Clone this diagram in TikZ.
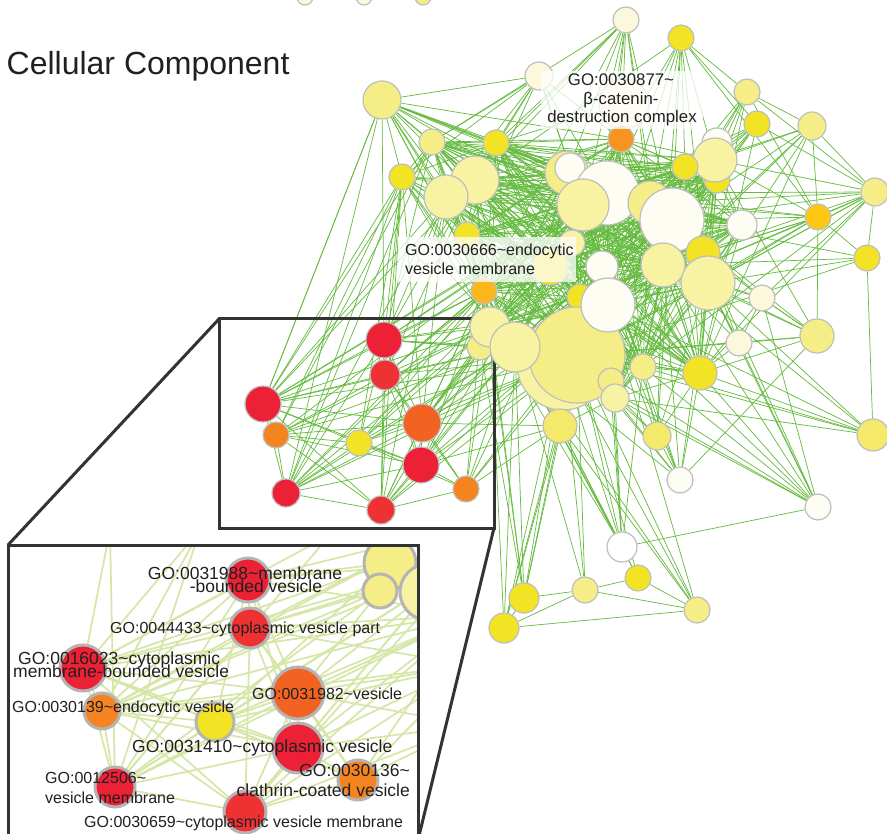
\documentclass[tikz,border=0pt]{standalone}
\usepackage{fontspec}
\setmainfont{Liberation Sans}
\pgfdeclarelayer{edges}
\pgfdeclarelayer{frame}
\pgfdeclarelayer{zoomback}
\pgfdeclarelayer{zoomedges}
\pgfsetlayers{edges,frame,zoomback,zoomedges,main}

\definecolor{gcream}{HTML}{FEFDF3}
\definecolor{givory}{HTML}{FBF8DC}
\definecolor{gpale}{HTML}{F8F3A2}
\definecolor{gyel}{HTML}{F5EE87}
\definecolor{gmid}{HTML}{F4E96A}
\definecolor{gbright}{HTML}{F2E424}
\definecolor{gamber}{HTML}{FCC814}
\definecolor{gsaffron}{HTML}{FBB71C}
\definecolor{gorange}{HTML}{F7941D}
\definecolor{gorange2}{HTML}{F4841F}
\definecolor{gvermil}{HTML}{F26322}
\definecolor{gred}{HTML}{EC2136}
\definecolor{gred2}{HTML}{EE3234}
\definecolor{ringgray}{HTML}{BEBEBE}
\definecolor{zringgray}{HTML}{B4B4B4}
\definecolor{linkgreen}{HTML}{66BB40}
\definecolor{linkpale}{HTML}{D5E6A6}
\definecolor{inkdark}{HTML}{231F20}
\definecolor{framedark}{HTML}{333333}

\tikzset{
  term/.style={circle, draw=ringgray, line width=1.2pt, inner sep=0pt},
  zterm/.style={circle, draw=zringgray, line width=3pt, inner sep=0pt},
  link/.style={draw=linkgreen, line width=0.72pt},
  zlink/.style={draw=linkpale, line width=1.7pt},
  zoomframe/.style={draw=framedark, line width=3pt},
  tag/.style={inner sep=0pt, text=inkdark, font=\fontsize{16}{18}\selectfont},
  bigtag/.style={font=\fontsize{16.8}{18}\selectfont},
  ztag/.style={inner sep=0pt, text=inkdark, font=\fontsize{16}{16}\selectfont},
  zbig/.style={font=\fontsize{17.5}{17.5}\selectfont},
  tagbox/.style={fill=white, fill opacity=0.75, draw=none, inner sep=0pt},
}
\newcommand\goterm[5]{\node[term, fill=#5, minimum size=2*#4 pt] (#1) at (#2,#3) {};}
\newcommand\gozterm[5]{\node[zterm, fill=#5, minimum size=2*#4 pt] (#1) at (#2,#3) {};}

\def\corelist{a3,a4,a6,a7,a8,a10,a11,b7,c1,c2,c3,c4,c5,c6,c7,c9,c10,c11,c12,c13,c14,c15,c16,c17,c18,d1,d3,d5,d6,d8,d10}

\begin{document}
\begin{tikzpicture}[x=1pt,y=-1pt]
\useasboundingbox (0,0) rectangle (887,834);
\begin{pgfonlayer}{edges}
  \fill[white] (0,0) rectangle (887,834);
\end{pgfonlayer}

% title
\node[anchor=base west, inner sep=0pt, text=inkdark, font=\fontsize{32}{38}\selectfont] (title) at (6.5,75) {Cellular Component};

% ---------------- main network: terms ----------------
\goterm{t1}{305}{-3}{8}{givory}
\goterm{t2}{364}{-3}{8}{givory}
\goterm{t3}{423}{-3}{8}{gyel}
\goterm{a1}{382}{100}{19}{gyel}
\goterm{a2}{539}{76}{14}{givory}
\goterm{a3}{432}{142}{13}{gyel}
\goterm{a4}{496}{143}{13}{gbright}
\goterm{a5}{402}{177}{13}{gbright}
\goterm{a6}{475}{180}{24}{gpale}
\goterm{a7}{446}{197}{22}{gpale}
\goterm{a8}{467}{235}{13}{gbright}
\goterm{a9}{429}{251}{13}{gcream}
\goterm{a10}{484}{291}{13}{gsaffron}
\goterm{a11}{550}{267}{18}{gbright}
\goterm{b1}{626}{20}{13}{givory}
\goterm{b2}{681}{38}{13}{gbright}
\goterm{b3}{624}{104}{25}{givory}
\goterm{b4}{747}{92}{13}{gyel}
\goterm{b5}{757}{124}{13}{gbright}
\goterm{b6}{812}{126}{14}{gyel}
\goterm{b7}{621}{139}{13}{gorange}
\goterm{c1}{567}{173}{22}{gyel}
\goterm{c2}{570}{168}{15}{gcream}
\goterm{c3}{607}{193}{32}{gcream}
\goterm{c4}{583}{205}{26}{gpale}
\goterm{c5}{650}{203}{22}{gyel}
\goterm{c6}{672}{220}{32}{gcream}
\goterm{c8}{717}{143}{15}{gcream}
\goterm{c9}{717}{180}{13}{gbright}
\goterm{c10}{715}{160}{22}{gpale}
\goterm{c7}{685}{167}{13}{gbright}
\goterm{c11}{742}{225}{15}{gcream}
\goterm{c12}{703}{253}{17}{gbright}
\goterm{c13}{663}{265}{22}{gpale}
\goterm{c14}{708}{283}{27}{gpale}
\goterm{c15}{602}{267}{16}{gcream}
\goterm{c17}{572}{243}{13}{gpale}
\goterm{c18}{580}{297}{13}{gbright}
\goterm{d4}{563}{364}{46}{gpale}
\goterm{d5}{577}{355}{48}{gyel}
\goterm{d7}{611}{381}{13}{gyel}
\goterm{d8}{615}{398}{14}{gpale}
\goterm{d6}{643}{367}{13}{gyel}
\goterm{c16}{608}{305}{27}{gcream}
\goterm{d2}{480}{347}{13}{gyel}
\goterm{d1}{490}{327}{20}{gpale}
\goterm{d3}{515}{347}{25}{gpale}
\goterm{d9}{560}{426}{17}{gmid}
\goterm{d10}{700}{373}{17}{gbright}
\goterm{d11}{739}{343}{13}{givory}
\goterm{d12}{817}{336}{17}{gyel}
\goterm{d13}{657}{436}{14}{gmid}
\goterm{d14}{680}{480}{13}{gcream}
\goterm{d15}{873}{435}{16}{gmid}
\goterm{d16}{818}{507}{13}{gcream}
\goterm{d17}{622}{547}{15}{white}
\goterm{d18}{638}{578}{13}{gbright}
\goterm{d19}{585}{590}{13}{gyel}
\goterm{d20}{524}{598}{15}{gbright}
\goterm{d21}{697}{610}{13}{gyel}
\goterm{d22}{504}{628}{15}{gbright}
\goterm{e1}{762}{298}{13}{givory}
\goterm{e2}{875}{192}{14}{gyel}
\goterm{e3}{818}{217}{13}{gamber}
\goterm{e4}{867}{258}{13}{gbright}
% vesicle cluster
\goterm{r1}{384}{340}{18}{gred}
\goterm{r2}{385}{375}{15}{gred2}
\goterm{r3}{263}{404}{18}{gred}
\goterm{r4}{276}{435}{13}{gorange2}
\goterm{r5}{359}{443}{13}{gbright}
\goterm{r6}{422}{423}{19}{gvermil}
\goterm{r7}{421}{465}{18}{gred}
\goterm{r8}{466}{489}{13}{gorange2}
\goterm{r9}{286}{493}{14}{gred}
\goterm{r10}{381}{510}{14}{gred2}

% ---------------- main network: links ----------------
\begin{pgfonlayer}{edges}
  \foreach \u [count=\i] in \corelist {
    \foreach \v [count=\j] in \corelist {
      \ifnum\j>\i \draw[link] (\u) -- (\v); \fi
    }
  }
  \foreach \u/\v in {
    a1/a3,a1/a4,a1/a5,a1/a6,a1/a7,a1/c1,a1/c3,a1/c4,a1/d5,a1/d3,a1/a10,a1/a8,a1/r1,a1/r3,a1/b7,a1/a11,a1/c2,a1/c5,a1/c13,
    a2/a3,a2/a4,a2/a5,a2/a6,a2/a7,a2/c4,a2/c2,a2/a1,a2/a8,a2/c3,a2/b7,
    a5/a3,a5/a4,a5/a6,a5/a7,a5/a8,a5/a10,a5/d1,a5/d3,a5/d5,a5/c4,a5/r3,a5/r9,a5/r1,a5/r2,a5/r6,a5/r4,a5/a11,a5/c3,a5/c16,
    a9/a6,a9/a7,a9/a8,a9/c4,a9/d5,a9/d3,
    b1/a4,b1/a6,b1/c3,b1/c4,b1/c1,b1/a3,b1/b7,b1/c5,b1/a7,b1/d5,b1/c13,b1/a10,b1/c6,
    b2/c7,b2/c10,b2/b5,b2/b4,b2/c6,b2/c3,b2/d5,b2/e3,b2/c5,b2/b7,b2/c13,b2/a6,b2/c14,
    b3/a4,b3/b7,b3/c3,
    b4/b6,b4/c10,b4/c6,b4/c7,b4/e3,b4/d5,b4/c9,b4/e2,b4/c14,
    b5/c10,b5/c6,b5/c3,b5/d5,b5/c5,b5/e2,b5/c7,b5/c9,b5/d10,
    b6/c6,b6/c10,b6/d10,b6/e3,b6/d5,b6/c13,b6/c14,b6/e2,b6/c3,
    e2/c6,e2/c10,e2/c14,e2/c13,e2/d10,e2/e3,e2/c3,e2/c16,e2/d5,e2/c5,e2/e4,e2/d6,
    e3/c6,e3/c10,e3/c14,e3/d12,e3/c3,e3/c13,e3/d5,e3/c12,e3/c16,e3/c5,
    e4/d15,e4/c14,e4/c13,e4/d5,e4/c6,e4/e3,
    d2/d3,d2/d5,d2/a10,d2/r1,d2/r6,d2/d1,d2/c4,d2/c3,
    d9/d5,d9/d3,d9/d4,d9/d1,d9/c16,d9/r6,d9/r7,d9/a10,d9/c15,d9/d8,d9/c13,d9/c4,
    d11/c14,d11/c13,d11/d10,d11/d12,d11/e1,d11/c6,d11/d5,d11/c12,
    d12/c14,d12/c6,d12/c10,d12/d14,d12/e1,d12/d10,d12/c13,d12/d5,
    d13/d5,d13/d8,d13/c14,d13/c13,d13/d10,d13/c16,d13/d6,d13/c6,
    d14/d5,d14/d8,d14/d10,d14/d6,d14/c13,d14/c14,d14/c16,d14/d3,d14/d13,d14/c15,
    d15/d5,d15/c14,d15/d10,d15/c13,d15/d6,d15/c16,d15/d8,
    d16/d5,d16/c14,d16/d10,d16/c16,d16/d11,d16/e1,d16/d6,d16/c13,d16/d8,d16/d17,d16/c12,d16/d4,
    d17/d5,d17/d4,d17/d3,d17/d9,d17/d1,d17/c16,d17/d8,d17/c15,d17/a10,d17/d6,
    d18/d19,d18/d21,d18/d5,d18/d9,d18/d3,
    d19/d5,d19/d21,d19/d22,d19/d20,d19/d4,d19/d3,
    d20/d9,d20/d5,d20/d4,d20/d3,d20/d1,d20/d22,d20/d2,d20/a10,
    d21/d5,d21/d9,d21/d22,d21/d4,d21/d3,d21/c16,
    d22/d9,d22/d5,d22/d4,d22/d3,d22/d1,
    e1/c14,e1/c6,e1/d10,e1/d12,e1/c12,e1/c13,e1/e2,
    r1/r2,r1/r3,r1/r6,r1/r7,r1/r9,r1/r10,r1/r5,r2/r3,r2/r4,r2/r6,r2/r7,r2/r8,r2/r10,
    r3/r4,r3/r5,r3/r6,r3/r9,r3/r7,r3/r10,r4/r9,r4/r5,r4/r6,r4/r10,r5/r6,r5/r7,r5/r9,
    r6/r7,r6/r8,r6/r10,r7/r8,r7/r10,r7/r9,r8/r10,r9/r10,r4/r7,r6/r9,r5/r8,
    r1/a3,r1/a7,r1/a6,r1/d3,r1/d1,r1/c4,r1/a10,r1/d5,r1/c3,r1/c16,
    r2/a6,r2/d1,r2/d3,r2/d5,r2/c4,r2/a10,r2/c3,
    r3/a1,r3/a3,r3/a7,r3/d1,r3/d3,r3/d5,r3/a10,r3/c4,r3/a6,r3/c3,
    r4/a3,r4/d3,r4/d5,r4/d1,r4/c4,
    r5/a5,r5/a10,r5/d1,r5/d3,r5/d5,r5/c3,
    r6/a7,r6/d1,r6/d3,r6/d5,r6/c3,r6/c4,r6/c15,r6/a10,r6/c16,
    r7/d3,r7/d5,r7/d1,r7/a10,r7/c4,r7/c16,
    r8/d3,r8/d5,r8/d1,r8/a10,r8/c3,r8/d9,r8/c16,
    r9/a1,r9/a3,r9/a7,r9/d3,r9/d1,r9/d5,r9/a10,r9/c4,
    r10/d3,r10/d5,r10/d1,r10/a10,r10/a7,r10/a5,r10/c16%
  } { \draw[link] (\u) -- (\v); }
\end{pgfonlayer}

% ---------------- zoom frame ----------------
\coordinate (fnw) at (219,319);
\coordinate (fse) at (494,528);
\coordinate (inw) at (8,545);
\coordinate (ise) at (418,840);
\begin{pgfonlayer}{frame}
  \draw[zoomframe] (fnw) rectangle (fse);
  \draw[zoomframe] (fnw) -- (inw);
  \draw[zoomframe] (fse) -- (ise);
\end{pgfonlayer}

% ---------------- labels in the network ----------------
\node[tagbox, minimum width=162pt, minimum height=58pt] (catbox) at (622,100) {};
\node[tag, bigtag, anchor=base] (cat1) at (621,86) {GO:0030877\textasciitilde};
\node[tag, bigtag, anchor=base] (cat2) at (621,104.5) {β-catenin-};
\node[tag, bigtag, anchor=base] (cat3) at (622,123) {destruction complex};
\node[tagbox, minimum width=178pt, minimum height=45pt] (endobox) at (487,259.5) {};
\node[tag, anchor=base west] (endo1) at (405,256) {GO:0030666\textasciitilde{}endocytic};
\node[tag, anchor=base west] (endo2) at (405,275) {vesicle membrane};

% ---------------- magnified view ----------------
\begin{pgfonlayer}{zoomback}
  \fill[white] (inw) rectangle (ise);
\end{pgfonlayer}
\begin{scope}
  \clip (inw) rectangle (ise);
  \gozterm{y1}{390}{563}{26}{gyel}
  \gozterm{y2}{380}{591}{17}{gyel}
  \gozterm{y3}{428}{592}{28}{gpale}
  \gozterm{s1}{248}{580}{22}{gred}
  \gozterm{s2}{250}{628}{20}{gred2}
  \gozterm{s3}{83}{668}{23}{gred}
  \gozterm{s4}{102}{711}{18}{gorange2}
  \gozterm{s5}{215}{722}{19}{gbright}
  \gozterm{s6}{298}{693}{26}{gvermil}
  \gozterm{s7}{298}{748}{25}{gred}
  \gozterm{s8}{358}{780}{20}{gorange2}
  \gozterm{s9}{115}{787}{20}{gred}
  \gozterm{s10}{245}{812}{21}{gred2}
\end{scope}
\coordinate (o1) at (330,535);
\coordinate (o2) at (470,560);
\coordinate (o3) at (470,615);
\coordinate (o4) at (470,665);
\coordinate (o5) at (470,725);
\coordinate (o6) at (200,530);
\coordinate (o7) at (110,530);
\coordinate (o8) at (430,535);
\begin{pgfonlayer}{zoomedges}
  \begin{scope}
    \clip (inw) rectangle (ise);
    \foreach \u/\v in {
      s1/s2,s1/s3,s1/s6,s1/s7,s1/s4,s1/s9,s1/s5,s2/s3,s2/s4,s2/s6,s2/s7,s2/s8,s2/s10,s2/s9,
      s3/s4,s3/s5,s3/s6,s3/s7,s3/s9,s3/s10,s4/s9,s4/s5,s4/s6,s4/s10,s5/s6,s5/s7,s5/s9,s5/s8,
      s6/s7,s6/s8,s6/s10,s7/s8,s7/s10,s7/s9,s8/s10,s9/s10,s4/s7,s6/s9,s3/s8,
      s1/o2,s1/o3,s1/o8,s2/o2,s2/o3,s2/o4,s2/o8,s3/o1,s3/o2,s3/o3,s3/o6,s3/o7,s4/o2,s4/o3,s4/o4,s4/o8,
      s5/o2,s5/o3,s5/o4,s6/o2,s6/o3,s6/o4,s6/o5,s7/o3,s7/o4,s7/o5,s8/o4,s8/o5,s8/o3,
      s9/o1,s9/o2,s9/o3,s9/o6,s10/o3,s10/o4,s10/o5,s4/o6,s9/o7,s10/o2,
      s1/y1,s2/y2,s6/y2,s3/y1,s4/y2,s5/y1,s7/y3,s9/y2,s10/y3%
    } { \draw[zlink] (\u) -- (\v); }
  \end{scope}
\end{pgfonlayer}
\begin{scope}
  \clip (inw) rectangle (ise);
  \node[ztag, zbig, anchor=base] (l1a) at (245,579) {GO:0031988\textasciitilde{}membrane};
  \node[ztag, zbig, anchor=base] (l1b) at (256,592) {-bounded vesicle};
  \node[ztag, anchor=base west] (l2) at (110,633) {GO:0044433\textasciitilde{}cytoplasmic vesicle part};
  \node[ztag, zbig, anchor=base west] (l3a) at (18,664) {GO:0016023\textasciitilde{}cytoplasmic};
  \node[ztag, zbig, anchor=base west] (l3b) at (13,677) {membrane-bounded vesicle};
  \node[ztag, anchor=base west] (l4) at (12,712) {GO:0030139\textasciitilde{}endocytic vesicle};
  \node[ztag, anchor=base west] (l5) at (252,699) {GO:0031982\textasciitilde{}vesicle};
  \node[ztag, zbig, anchor=base west] (l6) at (132,752) {GO:0031410\textasciitilde{}cytoplasmic vesicle};
  \node[ztag, zbig, anchor=base east] (l7a) at (410,776) {GO:0030136\textasciitilde};
  \node[ztag, zbig, anchor=base east] (l7b) at (410,796) {clathrin-coated vesicle};
  \node[ztag, anchor=base west] (l8a) at (45,783) {GO:0012506\textasciitilde};
  \node[ztag, anchor=base west] (l8b) at (45,803) {vesicle membrane};
  \node[ztag, anchor=base west] (l9) at (84,827) {GO:0030659\textasciitilde{}cytoplasmic vesicle membrane};
\end{scope}
\draw[zoomframe] (8,850) -- (inw) -- (418,545) -- (418,850);
\end{tikzpicture}
\end{document}
